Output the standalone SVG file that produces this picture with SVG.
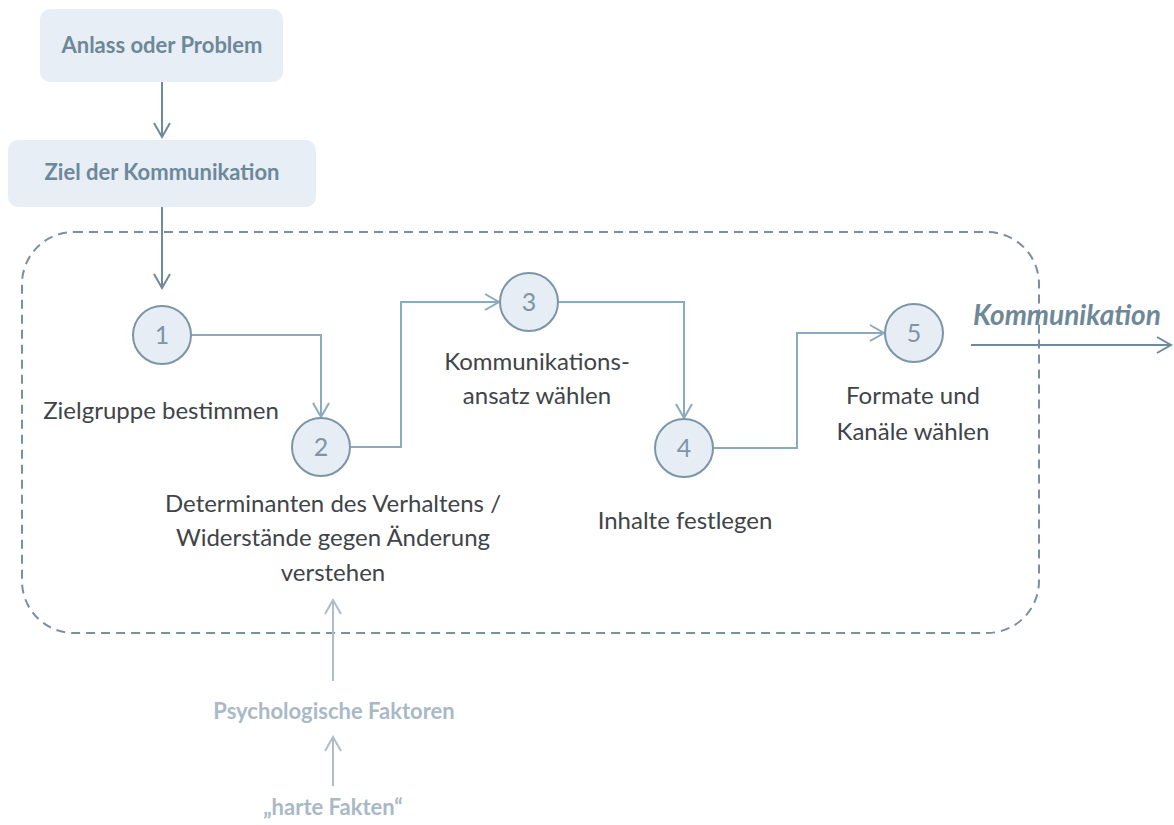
<svg xmlns="http://www.w3.org/2000/svg" width="1174" height="825" viewBox="0 0 1174 825">
<defs>
<style>
.box{fill:#e7eef5;}
.boxt{font-family:Lato,"Noto Sans",sans-serif;font-weight:bold;font-size:22px;fill:#6d8899;text-anchor:middle;}
.circ{fill:#e6edf5;stroke:#7c95a6;stroke-width:2;}
.num{font-family:Lato,"Noto Sans",sans-serif;font-size:25px;fill:#7f95a5;text-anchor:middle;}
.lbl{font-family:Lato,"Noto Sans",sans-serif;font-size:24px;fill:#404448;text-anchor:middle;}
.conn{fill:none;stroke:#8aaabf;stroke-width:2;}
.connd{fill:none;stroke:#6f8a9b;stroke-width:2;}
.connl{fill:none;stroke:#aebdc9;stroke-width:2;}
.faint{font-family:Lato,"Noto Sans",sans-serif;font-weight:bold;font-size:22px;fill:#a9b9c6;text-anchor:middle;}
</style>
<marker id="a1" viewBox="0 0 20 20" refX="18" refY="10" markerWidth="20" markerHeight="20" markerUnits="userSpaceOnUse" orient="auto"><path d="M4,2 L18,10 L4,18" fill="none" stroke="#8aaabf" stroke-width="2"/></marker>
<marker id="a2" viewBox="0 0 20 20" refX="18" refY="10" markerWidth="20" markerHeight="20" markerUnits="userSpaceOnUse" orient="auto"><path d="M4,2 L18,10 L4,18" fill="none" stroke="#6f8a9b" stroke-width="2"/></marker>
<marker id="a3" viewBox="0 0 20 20" refX="18" refY="10" markerWidth="20" markerHeight="20" markerUnits="userSpaceOnUse" orient="auto"><path d="M4,2 L18,10 L4,18" fill="none" stroke="#aebdc9" stroke-width="2"/></marker>
</defs>
<rect width="1174" height="825" fill="#ffffff"/>
<rect id="frame" x="22" y="232" width="1017" height="401" rx="52" ry="52" fill="none" stroke="#7a909f" stroke-width="2" stroke-dasharray="9 6"/>
<g id="connectors">
<path class="connd" d="M162,82 V137" marker-end="url(#a2)"/>
<path class="connd" d="M162,207 V288" marker-end="url(#a2)"/>
<path class="conn" d="M191,335 H321 V417" marker-end="url(#a1)"/>
<path class="conn" d="M351,447 H401 V302 H499" marker-end="url(#a1)"/>
<path class="conn" d="M558,302 H684 V418" marker-end="url(#a1)"/>
<path class="conn" d="M713,448 H797 V333 H884" marker-end="url(#a1)"/>
<path class="connd" d="M971,345 H1171" marker-end="url(#a2)"/>
<path class="connl" d="M333,681 V600" marker-end="url(#a3)"/>
<path class="connl" d="M333,786 V737" marker-end="url(#a3)"/>
</g>
<g id="anlass">
<rect class="box" x="40" y="9" width="243" height="73" rx="10"/>
<text class="boxt" x="162" y="53">Anlass oder Problem</text>
</g>
<g id="ziel">
<rect class="box" x="8" y="140" width="308" height="67" rx="10"/>
<text class="boxt" x="162" y="180">Ziel der Kommunikation</text>
</g>
<g id="step1">
<circle class="circ" cx="162" cy="335" r="29"/>
<text class="num" x="162" y="344">1</text>
<text class="lbl" x="161" y="419">Zielgruppe bestimmen</text>
</g>
<g id="step2">
<circle class="circ" cx="321" cy="447" r="29"/>
<text class="num" x="321" y="456">2</text>
<text class="lbl" x="333" y="512">Determinanten des Verhaltens /</text>
<text class="lbl" x="333" y="546">Widerstände gegen Änderung</text>
<text class="lbl" x="333" y="581">verstehen</text>
</g>
<g id="step3">
<circle class="circ" cx="529" cy="302" r="29"/>
<text class="num" x="529" y="311">3</text>
<text class="lbl" x="537" y="370">Kommunikations-</text>
<text class="lbl" x="537" y="404">ansatz wählen</text>
</g>
<g id="step4">
<circle class="circ" cx="684" cy="448" r="29"/>
<text class="num" x="684" y="457">4</text>
<text class="lbl" x="685" y="529">Inhalte festlegen</text>
</g>
<g id="step5">
<circle class="circ" cx="914" cy="333" r="29"/>
<text class="num" x="914" y="342">5</text>
<text class="lbl" x="913" y="404">Formate und</text>
<text class="lbl" x="913" y="440">Kanäle wählen</text>
</g>
<g id="kommunikation">
<text x="1067" y="325" font-family="Lato,'Noto Sans',sans-serif" font-weight="bold" font-style="italic" font-size="28" fill="#6e8898" text-anchor="middle">Kommunikation</text>
</g>
<g id="psych">
<text class="faint" x="334" y="719">Psychologische Faktoren</text>
</g>
<g id="fakten">
<text class="faint" x="333" y="815">„harte Fakten“</text>
</g>
</svg>
